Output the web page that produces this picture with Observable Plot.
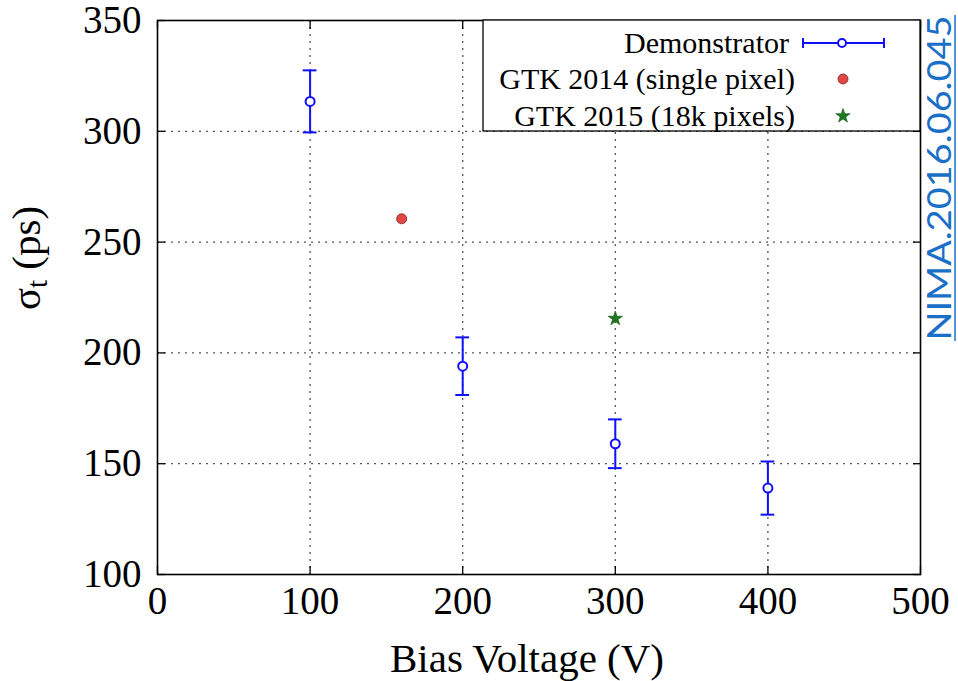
<!DOCTYPE html>
<html><head><meta charset="utf-8">
<script src="https://cdn.jsdelivr.net/npm/d3@7"></script>
<script src="https://cdn.jsdelivr.net/npm/@observablehq/plot@0.6"></script>
<style>body{margin:0;background:#fff;} svg{display:block;}</style>
</head><body><div id="chart"></div>
<script>
// Demonstrator
const demoVoltage = [100, 200, 300, 400];
const demoSigma   = [313.5, 194, 159, 139];
const demoErr     = [14, 13, 11, 12];
// GTK 2014 (single pixel)
const gtk14Voltage = [160];
const gtk14Sigma   = [260.5];
// GTK 2015 (18k pixels)
const gtk15Voltage = [300];
const gtk15Sigma   = [215.5];
const xTicks = [0, 100, 200, 300, 400, 500];
const yTicks = [100, 150, 200, 250, 300, 350];
const legendLabels = ["Demonstrator", "GTK 2014 (single pixel)", "GTK 2015 (18k pixels)"];

const demo = demoVoltage.map((v, i) => ({x: v, y: demoSigma[i], lo: demoSigma[i] - demoErr[i], hi: demoSigma[i] + demoErr[i]}));
const gtk14 = gtk14Voltage.map((v, i) => ({x: v, y: gtk14Sigma[i]}));
const gtk15 = gtk15Voltage.map((v, i) => ({x: v, y: gtk15Sigma[i]}));
const capHalf = 4.5;
const blue = "#1010ff";
const serif = "'Liberation Serif', 'Times New Roman', serif";

const chart = Plot.plot({
  width: 958, height: 681,
  marginLeft: 157, marginRight: 38, marginTop: 20, marginBottom: 107,
  style: {fontFamily: serif, fontSize: "39px", color: "#000", background: "#fff"},
  x: {domain: [0, 500], ticks: xTicks, label: null},
  y: {domain: [100, 350], ticks: yTicks, label: null},
  marks: [
    Plot.gridX({ticks: [100, 200, 300, 400], stroke: "#555", strokeOpacity: 1, strokeWidth: 1.3, strokeDasharray: "2,5"}),
    Plot.gridY({ticks: [150, 200, 250, 300], stroke: "#555", strokeOpacity: 1, strokeWidth: 1.3, strokeDasharray: "2,5"}),
    Plot.axisX({anchor: "bottom", ticks: xTicks, tickSize: 0, tickPadding: 12, fontSize: 39, label: null}),
    Plot.axisY({anchor: "left", ticks: yTicks, tickSize: 0, tickPadding: 16, fontSize: 39, label: null}),
    Plot.axisX({anchor: "bottom", ticks: xTicks, tickSize: -8, tickFormat: () => "", label: null, strokeWidth: 1.3}),
    Plot.axisX({anchor: "top", ticks: xTicks, tickSize: -8, tickFormat: () => "", label: null, strokeWidth: 1.3}),
    Plot.axisY({anchor: "left", ticks: yTicks, tickSize: -8, tickFormat: () => "", label: null, strokeWidth: 1.3}),
    Plot.axisY({anchor: "right", ticks: yTicks, tickSize: -8, tickFormat: () => "", label: null, strokeWidth: 1.3}),
    Plot.ruleX(demo, {x: "x", y1: "lo", y2: "hi", stroke: blue, strokeWidth: 2}),
    Plot.ruleY(demo, {y: "lo", x1: d => d.x - capHalf, x2: d => d.x + capHalf, stroke: blue, strokeWidth: 2}),
    Plot.ruleY(demo, {y: "hi", x1: d => d.x - capHalf, x2: d => d.x + capHalf, stroke: blue, strokeWidth: 2}),
    Plot.dot(demo, {x: "x", y: "y", r: 4.5, fill: "#fff", stroke: blue, strokeWidth: 2}),
    Plot.dot(gtk14, {x: "x", y: "y", r: 5, fill: "#e04848", stroke: "#802020", strokeWidth: 0.8}),
    Plot.dot(gtk15, {x: "x", y: "y", r: 4.5, symbol: "star", fill: "#1d7a1d", stroke: "#0d4d0d", strokeWidth: 0.6}),
    Plot.frame({stroke: "#000", strokeWidth: 1.6})
  ]
});

const svg = d3.select(chart);
// Legend box
const lg = svg.append("g").attr("font-family", serif).attr("font-size", 30);
lg.append("rect").attr("x", 483).attr("y", 20).attr("width", 437).attr("height", 111)
  .attr("fill", "#fff").attr("stroke", "#000").attr("stroke-width", 1.3);
const rowY = [43, 79, 116];
legendLabels.forEach((t, i) => {
  lg.append("text").attr("x", i === 0 ? 789 : 795).attr("y", rowY[i]).attr("dy", "0.33em")
    .attr("text-anchor", "end").text(t);
});
// Demonstrator symbol
lg.append("line").attr("x1", 803).attr("x2", 884).attr("y1", 43).attr("y2", 43).attr("stroke", blue).attr("stroke-width", 2);
lg.append("line").attr("x1", 803).attr("x2", 803).attr("y1", 38).attr("y2", 48).attr("stroke", blue).attr("stroke-width", 2);
lg.append("line").attr("x1", 884).attr("x2", 884).attr("y1", 38).attr("y2", 48).attr("stroke", blue).attr("stroke-width", 2);
lg.append("circle").attr("cx", 842).attr("cy", 43).attr("r", 4).attr("fill", "#fff").attr("stroke", blue).attr("stroke-width", 2);
lg.append("circle").attr("cx", 843).attr("cy", 79).attr("r", 5).attr("fill", "#e04848").attr("stroke", "#802020").attr("stroke-width", 0.8);
lg.append("path").attr("transform", "translate(843,116)").attr("d", d3.symbol(d3.symbolStar, Math.PI * 4.5 * 4.5)())
  .attr("fill", "#1d7a1d").attr("stroke", "#0d4d0d").attr("stroke-width", 0.6);

// Axis titles
svg.append("text").attr("x", 527).attr("y", 672).attr("text-anchor", "middle")
  .attr("font-family", serif).attr("font-size", 41).attr("fill", "#000").text("Bias Voltage (V)");
const yl = svg.append("text").attr("transform", "translate(40,258) rotate(-90)").attr("text-anchor", "middle")
  .attr("font-family", serif).attr("font-size", 41).attr("fill", "#000");
yl.append("tspan").text("σ");
yl.append("tspan").attr("font-size", 29).attr("dy", 7).text("t");
yl.append("tspan").attr("dy", -7).text(" (ps)");

// DOI annotation
svg.append("text").attr("transform", "translate(951,178) rotate(-90)").attr("text-anchor", "middle")
  .attr("font-family", "Lato, 'Open Sans', sans-serif").attr("font-weight", 400).attr("font-size", 33)
  .attr("fill", "#1a6fc8").attr("textLength", 325).attr("lengthAdjust", "spacingAndGlyphs")
  .text("NIMA.2016.06.045");
svg.append("line").attr("x1", 955).attr("x2", 955).attr("y1", 15).attr("y2", 341).attr("stroke", "#1a6fc8").attr("stroke-width", 1.5);

document.getElementById("chart").appendChild(chart);
</script></body></html>
